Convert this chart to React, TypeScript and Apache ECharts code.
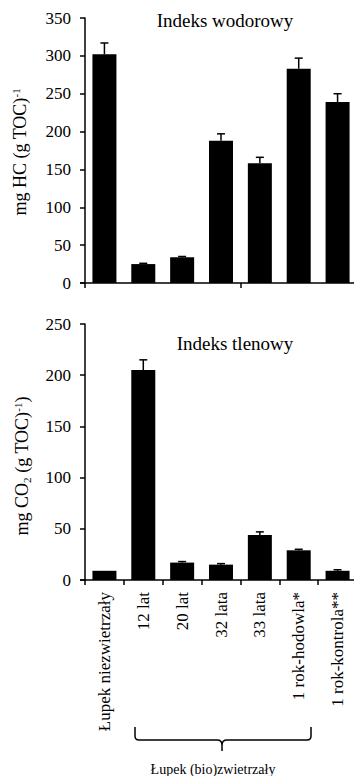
import React, { useEffect, useRef } from "react";
import * as echarts from "echarts";

const categories = [
  "Łupek niezwietrzały",
  "12 lat",
  "20 lat",
  "32 lata",
  "33 lata",
  "1 rok-hodowla*",
  "1 rok-kontrola**",
];
const hydrogenIndex = [302, 25, 34, 188, 158, 283, 239];
const hydrogenError = [15, 1, 1, 9, 8, 14, 11];
const oxygenIndex = [9, 205, 17, 15, 44, 29, 9];
const oxygenError = [0, 10, 1, 1, 3, 1, 1];
const hiTicks = { min: 0, max: 350, interval: 50 };
const oiTicks = { min: 0, max: 250, interval: 50 };

const FONT = "'Liberation Serif', 'Times New Roman', serif";

const bracePath =
  "M135,727 L135,736 Q135,740 139,740 L217,740 Q222,740 222,745 L222,751 M222,745 Q222,740 227,740 L307,740 Q311,740 311,736 L311,727";

let registered = false;
function registerBrace() {
  if (registered) return;
  echarts.graphic.registerShape("brace", echarts.graphic.extendPath(bracePath, {}) as any);
  registered = true;
}

function errorRender(params: any, api: any) {
  const i = api.value(0);
  const v = api.value(1);
  const top = api.value(2);
  if (top <= v) return null;
  const p0 = api.coord([i, v]);
  const p1 = api.coord([i, top]);
  const half = 4;
  const style = { stroke: "#000", lineWidth: 1.5 };
  return {
    type: "group",
    children: [
      { type: "line", shape: { x1: p0[0], y1: p0[1], x2: p1[0], y2: p1[1] }, style },
      { type: "line", shape: { x1: p1[0] - half, y1: p1[1], x2: p1[0] + half, y2: p1[1] }, style },
    ],
  };
}

export default function App() {
  const ref = useRef<HTMLDivElement>(null);
  useEffect(() => {
    if (!ref.current) return;
    registerBrace();
    const chart = echarts.init(ref.current, null, { renderer: "svg" });
    const axisLine = { show: true, lineStyle: { color: "#000", width: 1.5 } };
    const axisTick = { show: true, length: 5, lineStyle: { color: "#000", width: 1.5 } };
    const yLabel = { color: "#000", fontFamily: FONT, fontSize: 17, margin: 14 };
    const grids = [
      { left: 85, top: 18, width: 272, height: 265 },
      { left: 85, top: 324, width: 272, height: 256 },
    ];
    chart.setOption({
      animation: false,
      backgroundColor: "#fff",
      grid: grids,
      xAxis: [
        {
          type: "category",
          gridIndex: 0,
          data: categories,
          axisLine,
          axisTick: { ...axisTick, alignWithLabel: false },
          axisLabel: { show: false },
          splitLine: { show: false },
        },
        {
          type: "category",
          gridIndex: 1,
          data: categories,
          axisLine,
          axisTick: { ...axisTick, alignWithLabel: false },
          axisLabel: {
            color: "#000",
            fontFamily: FONT,
            fontSize: 17,
            rotate: 90,
            margin: 12,
            interval: 0,
          },
          splitLine: { show: false },
        },
      ],
      yAxis: [
        {
          type: "value",
          gridIndex: 0,
          ...hiTicks,
          axisLine,
          axisTick,
          axisLabel: yLabel,
          splitLine: { show: false },
        },
        {
          type: "value",
          gridIndex: 1,
          ...oiTicks,
          axisLine,
          axisTick,
          axisLabel: yLabel,
          splitLine: { show: false },
        },
      ],
      series: [
        {
          type: "bar",
          xAxisIndex: 0,
          yAxisIndex: 0,
          data: hydrogenIndex,
          barWidth: 24,
          itemStyle: { color: "#000" },
        },
        {
          type: "custom",
          xAxisIndex: 0,
          yAxisIndex: 0,
          data: hydrogenIndex.map((v, i) => [i, v, v + hydrogenError[i]]),
          encode: { x: 0, y: [1, 2] },
          renderItem: errorRender,
          z: 3,
        },
        {
          type: "bar",
          xAxisIndex: 1,
          yAxisIndex: 1,
          data: oxygenIndex,
          barWidth: 24,
          itemStyle: { color: "#000" },
        },
        {
          type: "custom",
          xAxisIndex: 1,
          yAxisIndex: 1,
          data: oxygenIndex.map((v, i) => [i, v, v + oxygenError[i]]),
          encode: { x: 0, y: [1, 2] },
          renderItem: errorRender,
          z: 3,
        },
      ],
      graphic: [
        {
          type: "text",
          x: 225,
          y: 20,
          style: {
            text: "Indeks wodorowy",
            fill: "#000",
            font: `19px ${FONT}`,
            align: "center",
            verticalAlign: "middle",
          },
        },
        {
          type: "text",
          x: 235,
          y: 343,
          style: {
            text: "Indeks tlenowy",
            fill: "#000",
            font: `19px ${FONT}`,
            align: "center",
            verticalAlign: "middle",
          },
        },
        {
          type: "text",
          x: 20,
          y: 152,
          rotation: Math.PI / 2,
          style: {
            text: "{n|mg HC (g TOC)}{sup|-1}",
            align: "center",
            verticalAlign: "middle",
            rich: {
              n: { fontFamily: FONT, fontSize: 18, fill: "#000", lineHeight: 20 },
              sup: { fontFamily: FONT, fontSize: 11, fill: "#000", verticalAlign: "top", lineHeight: 20 },
            },
          },
        },
        {
          type: "text",
          x: 22,
          y: 466,
          rotation: Math.PI / 2,
          style: {
            text: "{n|mg CO}{sub|2}{n| (g TOC)}{sup|-1}{n|)}",
            align: "center",
            verticalAlign: "middle",
            rich: {
              n: { fontFamily: FONT, fontSize: 18, fill: "#000", lineHeight: 20 },
              sup: { fontFamily: FONT, fontSize: 11, fill: "#000", verticalAlign: "top", lineHeight: 20 },
              sub: { fontFamily: FONT, fontSize: 11, fill: "#000", verticalAlign: "bottom", lineHeight: 20 },
            },
          },
        },
        {
          type: "line",
          shape: { x1: 80, y1: 283, x2: 85, y2: 283 },
          style: { stroke: "#000", lineWidth: 1.5 },
        },
        {
          type: "line",
          shape: { x1: 80, y1: 580, x2: 85, y2: 580 },
          style: { stroke: "#000", lineWidth: 1.5 },
        },
        {
          type: "brace",
          x: 0,
          y: 0,
          style: { stroke: "#000", lineWidth: 1.5, fill: "none" },
        },
        {
          type: "text",
          x: 213,
          y: 769,
          style: {
            text: "Łupek (bio)zwietrzały",
            fill: "#000",
            font: `14px ${FONT}`,
            align: "center",
            verticalAlign: "middle",
          },
        },
      ],
    });
    return () => chart.dispose();
  }, []);
  return (
    <div
      style={{
        position: "absolute",
        left: 0,
        top: 0,
        width: 354,
        height: 776,
        overflow: "hidden",
        background: "#fff",
      }}
    >
      <div ref={ref} style={{ width: 362, height: 776 }} />
    </div>
  );
}
